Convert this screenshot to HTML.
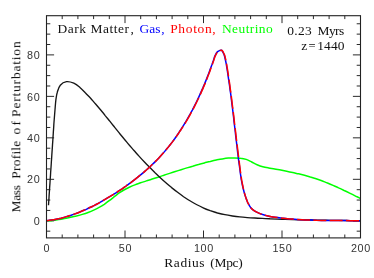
<!DOCTYPE html>
<html><head><meta charset="utf-8"><title>Mass Profile of Perturbation</title>
<style>
html,body{margin:0;padding:0;background:#fff;}
body{width:374px;height:278px;overflow:hidden;font-family:"Liberation Serif",serif;}
svg{display:block;}
.num text,.sn{font-family:"Liberation Sans",sans-serif;font-size:10.8px;letter-spacing:0.55px;fill:#333;}
.lab{font-family:"Liberation Serif",serif;font-size:11.8px;fill:#111;}
</style></head><body>
<svg width="374" height="278" viewBox="0 0 374 278">
<rect width="374" height="278" fill="#fff"/>
<path d="M46.50 237.90v-7.4M46.50 15.70v7.4M62.20 237.90v-3.4M62.20 15.70v3.4M77.90 237.90v-3.4M77.90 15.70v3.4M93.60 237.90v-3.4M93.60 15.70v3.4M109.30 237.90v-3.4M109.30 15.70v3.4M125.00 237.90v-7.4M125.00 15.70v7.4M140.70 237.90v-3.4M140.70 15.70v3.4M156.40 237.90v-3.4M156.40 15.70v3.4M172.10 237.90v-3.4M172.10 15.70v3.4M187.80 237.90v-3.4M187.80 15.70v3.4M203.50 237.90v-7.4M203.50 15.70v7.4M219.20 237.90v-3.4M219.20 15.70v3.4M234.90 237.90v-3.4M234.90 15.70v3.4M250.60 237.90v-3.4M250.60 15.70v3.4M266.30 237.90v-3.4M266.30 15.70v3.4M282.00 237.90v-7.4M282.00 15.70v7.4M297.70 237.90v-3.4M297.70 15.70v3.4M313.40 237.90v-3.4M313.40 15.70v3.4M329.10 237.90v-3.4M329.10 15.70v3.4M344.80 237.90v-3.4M344.80 15.70v3.4M360.50 237.90v-7.4M360.50 15.70v7.4M46.50 231.17h3.8M360.50 231.17h-3.8M46.50 220.80h7.6M360.50 220.80h-7.6M46.50 210.43h3.8M360.50 210.43h-3.8M46.50 200.06h3.8M360.50 200.06h-3.8M46.50 189.69h3.8M360.50 189.69h-3.8M46.50 179.32h7.6M360.50 179.32h-7.6M46.50 168.95h3.8M360.50 168.95h-3.8M46.50 158.58h3.8M360.50 158.58h-3.8M46.50 148.21h3.8M360.50 148.21h-3.8M46.50 137.84h7.6M360.50 137.84h-7.6M46.50 127.47h3.8M360.50 127.47h-3.8M46.50 117.10h3.8M360.50 117.10h-3.8M46.50 106.73h3.8M360.50 106.73h-3.8M46.50 96.36h7.6M360.50 96.36h-7.6M46.50 85.99h3.8M360.50 85.99h-3.8M46.50 75.62h3.8M360.50 75.62h-3.8M46.50 65.25h3.8M360.50 65.25h-3.8M46.50 54.88h7.6M360.50 54.88h-7.6M46.50 44.51h3.8M360.50 44.51h-3.8M46.50 34.14h3.8M360.50 34.14h-3.8M46.50 23.77h3.8M360.50 23.77h-3.8" stroke="#2a2a2a" stroke-width="1" fill="none"/>
<g fill="none" stroke-linejoin="round" stroke-linecap="butt">
<path d="M46.5 220.8C47.5 220.7 50.6 220.6 52.6 220.4C54.6 220.2 56.6 220.0 58.6 219.6C60.6 219.3 62.6 218.9 64.5 218.5C66.5 218.2 68.5 217.7 70.5 217.3C72.5 216.9 74.5 216.4 76.4 216.0C78.4 215.5 80.4 215.0 82.3 214.4C84.3 213.8 86.2 213.2 88.1 212.5C90.0 211.8 91.9 211.0 93.7 210.1C95.5 209.3 97.3 208.4 99.1 207.4C100.9 206.4 102.6 205.4 104.3 204.3C106.0 203.1 107.6 202.0 109.2 200.7C110.9 199.5 112.4 198.2 114.0 196.9C115.6 195.7 117.2 194.4 118.8 193.2C120.5 192.1 122.2 191.0 123.9 190.0C125.6 189.0 127.4 188.1 129.3 187.2C131.1 186.4 133.0 185.6 134.9 184.9C136.7 184.2 138.7 183.5 140.6 182.8C142.5 182.2 144.5 181.5 146.4 180.9C148.3 180.3 150.3 179.7 152.2 179.0C154.2 178.4 156.1 177.8 158.0 177.2C159.9 176.5 161.9 175.9 163.8 175.3C165.7 174.6 167.6 174.0 169.6 173.4C171.5 172.8 173.4 172.2 175.3 171.5C177.2 170.9 179.2 170.3 181.1 169.7C183.0 169.1 184.9 168.5 186.9 167.9C188.8 167.3 190.7 166.7 192.7 166.2C194.6 165.6 196.6 165.0 198.5 164.5C200.5 163.9 202.4 163.4 204.4 162.9C206.4 162.4 208.3 161.8 210.3 161.4C212.3 160.9 214.3 160.4 216.3 160.0C218.3 159.6 220.2 159.2 222.3 158.9C224.3 158.6 226.3 158.3 228.3 158.1C230.3 158.0 232.3 157.9 234.3 157.9C236.3 157.9 238.4 157.9 240.4 158.2C242.4 158.4 244.4 158.8 246.2 159.4C248.1 160.1 249.9 161.1 251.7 162.0C253.5 162.9 255.3 164.0 257.1 164.8C259.0 165.6 260.9 166.3 262.8 166.8C264.7 167.3 266.8 167.6 268.7 167.9C270.7 168.3 272.7 168.6 274.7 169.0C276.7 169.4 278.7 169.7 280.7 170.1C282.7 170.5 284.7 170.9 286.7 171.3C288.7 171.7 290.7 172.1 292.7 172.5C294.7 172.9 296.6 173.4 298.6 173.8C300.6 174.3 302.6 174.8 304.5 175.3C306.5 175.8 308.4 176.4 310.3 177.0C312.3 177.5 314.2 178.2 316.1 178.8C318.0 179.4 320.0 180.1 321.8 180.8C323.7 181.5 325.6 182.3 327.5 183.0C329.4 183.8 331.2 184.6 333.1 185.4C334.9 186.2 336.8 187.0 338.6 187.9C340.5 188.7 342.3 189.6 344.1 190.5C346.0 191.3 347.8 192.2 349.6 193.1C351.4 194.0 353.3 194.9 355.1 195.8C356.9 196.7 359.6 198.0 360.5 198.5" stroke="#00ff00" stroke-width="1.5"/>
<path d="M48.5 205.2C48.6 203.9 48.8 200.2 49.0 197.7C49.1 195.2 49.3 192.7 49.5 190.1C49.6 187.6 49.8 185.1 50.0 182.6C50.1 180.1 50.3 177.6 50.5 175.1C50.6 172.5 50.8 170.0 51.0 167.5C51.2 165.0 51.3 162.5 51.5 160.0C51.7 157.5 51.8 155.0 52.0 152.4C52.2 149.9 52.4 147.4 52.5 144.9C52.7 142.4 52.9 139.9 53.0 137.4C53.2 134.9 53.3 132.4 53.5 129.9C53.7 127.4 53.8 124.8 54.0 122.3C54.2 119.8 54.4 117.3 54.6 114.8C54.8 112.3 55.0 109.8 55.2 107.3C55.4 104.8 55.6 102.2 55.9 99.7C56.3 97.2 56.5 94.7 57.3 92.2C58.0 89.8 58.7 87.0 60.3 85.2C61.8 83.5 64.2 82.1 66.5 81.7C68.7 81.4 71.5 82.2 73.8 83.1C76.0 84.1 78.0 85.8 79.9 87.4C81.8 89.0 83.6 90.9 85.3 92.8C87.1 94.6 88.8 96.5 90.6 98.3C92.3 100.2 93.9 102.1 95.6 104.0C97.2 105.9 98.8 107.8 100.5 109.8C102.1 111.7 103.7 113.6 105.2 115.6C106.8 117.5 108.4 119.5 110.0 121.4C111.5 123.4 113.1 125.3 114.7 127.3C116.2 129.2 117.8 131.2 119.4 133.2C121.0 135.1 122.6 137.0 124.2 139.0C125.8 140.9 127.4 142.9 129.0 144.8C130.7 146.7 132.3 148.6 134.0 150.5C135.7 152.4 137.3 154.3 139.0 156.1C140.7 158.0 142.4 159.9 144.2 161.7C145.9 163.5 147.6 165.3 149.4 167.1C151.2 168.9 153.0 170.7 154.8 172.5C156.6 174.2 158.4 176.0 160.3 177.7C162.1 179.4 164.0 181.1 165.9 182.7C167.8 184.4 169.7 186.0 171.6 187.6C173.6 189.2 175.6 190.8 177.6 192.3C179.6 193.8 181.6 195.3 183.6 196.7C185.7 198.1 187.8 199.5 189.9 200.8C192.1 202.1 194.2 203.4 196.4 204.5C198.7 205.7 200.9 206.8 203.2 207.8C205.5 208.9 207.8 209.8 210.2 210.7C212.6 211.5 215.0 212.3 217.5 213.0C219.9 213.6 222.4 214.2 224.9 214.7C227.4 215.2 229.9 215.6 232.4 216.0C234.9 216.4 237.3 216.7 239.8 216.9C242.3 217.2 244.8 217.4 247.3 217.6C249.8 217.8 252.3 217.9 254.8 218.0C257.3 218.2 259.8 218.3 262.3 218.4C264.8 218.6 267.4 218.7 269.9 218.8C272.4 218.9 274.9 219.0 277.4 219.1C279.9 219.2 282.4 219.3 285.0 219.3C287.5 219.4 290.0 219.5 292.5 219.6C295.0 219.6 297.6 219.7 300.1 219.8C302.6 219.8 305.1 219.9 307.6 219.9C310.2 220.0 312.7 220.0 315.2 220.1C317.7 220.1 320.3 220.2 322.8 220.2C325.3 220.2 327.8 220.3 330.3 220.3C332.9 220.3 335.4 220.4 337.9 220.4C340.4 220.5 342.9 220.5 345.4 220.5C348.0 220.6 350.5 220.6 353.0 220.7C355.5 220.7 359.2 220.8 360.5 220.8" stroke="#161616" stroke-width="1.35"/>
<path d="M46.5 220.8C47.3 220.7 49.8 220.4 51.4 220.1C53.0 219.9 54.6 219.6 56.2 219.2C57.8 218.9 59.4 218.5 61.0 218.2C62.5 217.8 64.1 217.4 65.7 216.9C67.2 216.5 68.8 216.0 70.3 215.5C71.8 215.0 73.4 214.5 74.9 213.9C76.4 213.4 77.9 212.8 79.4 212.2C80.9 211.6 82.4 211.0 83.9 210.3C85.4 209.7 86.8 209.0 88.3 208.3C89.8 207.6 91.2 206.9 92.7 206.2C94.1 205.5 95.6 204.7 97.0 204.0C98.4 203.2 99.9 202.4 101.3 201.6C102.7 200.8 104.1 200.0 105.5 199.2C106.9 198.4 108.3 197.6 109.7 196.7C111.1 195.9 112.5 195.0 113.9 194.1C115.3 193.3 116.6 192.4 118.0 191.5C119.4 190.6 120.7 189.7 122.1 188.8C123.4 187.9 124.8 186.9 126.1 186.0C127.4 185.0 128.8 184.1 130.1 183.1C131.4 182.2 132.7 181.2 134.0 180.2C135.3 179.2 136.6 178.2 137.8 177.2C139.1 176.1 140.4 175.1 141.6 174.1C142.9 173.0 144.1 172.0 145.3 170.9C146.5 169.8 147.8 168.7 149.0 167.6C150.2 166.5 151.3 165.4 152.5 164.3C153.7 163.2 154.8 162.0 156.0 160.9C157.1 159.7 158.2 158.6 159.3 157.4C160.4 156.2 161.5 155.0 162.6 153.8C163.7 152.6 164.8 151.4 165.8 150.1C166.8 148.9 167.9 147.7 168.9 146.4C169.9 145.1 170.8 143.9 171.8 142.6C172.8 141.3 173.7 140.0 174.7 138.7C175.6 137.4 176.5 136.1 177.5 134.7C178.4 133.4 179.3 132.1 180.1 130.7C181.0 129.4 181.9 128.0 182.7 126.6C183.6 125.3 184.4 123.9 185.3 122.5C186.1 121.1 186.9 119.7 187.7 118.3C188.5 116.9 189.3 115.5 190.1 114.1C190.9 112.6 191.7 111.2 192.5 109.8C193.2 108.3 194.0 106.9 194.7 105.4C195.4 104.0 196.2 102.5 196.9 101.0C197.6 99.6 198.3 98.1 199.0 96.6C199.7 95.1 200.4 93.6 201.0 92.1C201.7 90.6 202.3 89.1 203.0 87.6C203.6 86.1 204.3 84.6 204.9 83.1C205.5 81.6 206.1 80.1 206.7 78.6C207.3 77.1 207.9 75.5 208.5 74.0C209.1 72.5 209.6 70.9 210.2 69.4C210.8 67.9 211.3 66.3 211.9 64.8C212.4 63.3 212.9 61.7 213.5 60.2C214.0 58.7 214.4 57.0 215.1 55.6C215.8 54.2 216.5 52.6 217.6 51.7C218.7 50.9 220.4 49.8 221.5 50.3C222.6 50.8 223.4 53.1 224.1 54.6C224.7 56.1 225.0 57.9 225.3 59.5C225.7 61.1 226.0 62.6 226.3 64.2C226.5 65.8 226.8 67.4 227.1 69.0C227.3 70.6 227.6 72.2 227.8 73.8C228.1 75.4 228.3 77.0 228.5 78.6C228.8 80.2 229.0 81.8 229.2 83.4C229.5 85.0 229.7 86.6 229.9 88.3C230.1 89.9 230.3 91.5 230.6 93.1C230.8 94.7 231.0 96.3 231.2 97.9C231.4 99.5 231.6 101.2 231.8 102.8C232.0 104.4 232.2 106.0 232.4 107.6C232.6 109.2 232.8 110.8 233.0 112.4C233.2 114.1 233.4 115.7 233.6 117.3C233.7 118.9 233.9 120.5 234.1 122.1C234.3 123.7 234.5 125.4 234.7 127.0C234.9 128.6 235.1 130.2 235.3 131.8C235.4 133.4 235.6 135.0 235.8 136.7C236.0 138.3 236.2 139.9 236.4 141.5C236.6 143.1 236.8 144.7 237.0 146.3C237.2 148.0 237.3 149.6 237.5 151.2C237.7 152.8 237.9 154.4 238.1 156.0C238.3 157.6 238.5 159.2 238.7 160.9C238.9 162.5 239.2 164.1 239.4 165.7C239.6 167.3 239.8 168.9 240.0 170.5C240.2 172.1 240.4 173.8 240.7 175.4C240.9 177.0 241.1 178.6 241.4 180.2C241.7 181.8 242.0 183.4 242.4 185.0C242.7 186.6 243.1 188.2 243.5 189.7C243.9 191.3 244.3 192.9 244.8 194.4C245.3 196.0 245.8 197.6 246.4 199.1C247.0 200.6 247.5 202.2 248.3 203.7C249.0 205.1 249.8 206.6 250.8 207.8C251.8 209.0 253.0 210.0 254.4 210.9C255.7 211.8 257.3 212.5 258.8 213.1C260.3 213.8 261.9 214.3 263.5 214.7C265.0 215.2 266.6 215.6 268.1 215.9C269.7 216.3 271.3 216.6 272.9 216.9C274.5 217.2 276.1 217.4 277.7 217.6C279.3 217.9 280.9 218.0 282.5 218.2C284.2 218.4 285.8 218.6 287.4 218.7C289.0 218.8 290.7 219.0 292.3 219.1C293.9 219.2 295.5 219.3 297.1 219.4C298.8 219.5 300.4 219.6 302.0 219.7C303.6 219.8 305.3 219.9 306.9 219.9C308.5 220.0 310.1 220.1 311.8 220.1C313.4 220.2 315.0 220.2 316.6 220.3C318.2 220.3 319.9 220.3 321.5 220.4C323.1 220.4 324.7 220.4 326.4 220.5C328.0 220.5 329.6 220.5 331.2 220.5C332.9 220.5 334.5 220.6 336.1 220.6C337.7 220.6 339.4 220.6 341.0 220.6C342.6 220.6 344.2 220.6 345.9 220.6C347.5 220.7 349.1 220.7 350.7 220.7C352.4 220.7 354.0 220.7 355.6 220.7C357.2 220.8 359.7 220.8 360.5 220.8" stroke="#0000ff" stroke-width="1.5"/>
<path d="M46.5 220.8C47.3 220.7 49.8 220.4 51.4 220.1C53.0 219.9 54.6 219.6 56.2 219.2C57.8 218.9 59.4 218.5 61.0 218.2C62.5 217.8 64.1 217.4 65.7 216.9C67.2 216.5 68.8 216.0 70.3 215.5C71.8 215.0 73.4 214.5 74.9 213.9C76.4 213.4 77.9 212.8 79.4 212.2C80.9 211.6 82.4 211.0 83.9 210.3C85.4 209.7 86.8 209.0 88.3 208.3C89.8 207.6 91.2 206.9 92.7 206.2C94.1 205.5 95.6 204.7 97.0 204.0C98.4 203.2 99.9 202.4 101.3 201.6C102.7 200.8 104.1 200.0 105.5 199.2C106.9 198.4 108.3 197.6 109.7 196.7C111.1 195.9 112.5 195.0 113.9 194.1C115.3 193.3 116.6 192.4 118.0 191.5C119.4 190.6 120.7 189.7 122.1 188.8C123.4 187.9 124.8 186.9 126.1 186.0C127.4 185.0 128.8 184.1 130.1 183.1C131.4 182.2 132.7 181.2 134.0 180.2C135.3 179.2 136.6 178.2 137.8 177.2C139.1 176.1 140.4 175.1 141.6 174.1C142.9 173.0 144.1 172.0 145.3 170.9C146.5 169.8 147.8 168.7 149.0 167.6C150.2 166.5 151.3 165.4 152.5 164.3C153.7 163.2 154.8 162.0 156.0 160.9C157.1 159.7 158.2 158.6 159.3 157.4C160.4 156.2 161.5 155.0 162.6 153.8C163.7 152.6 164.8 151.4 165.8 150.1C166.8 148.9 167.9 147.7 168.9 146.4C169.9 145.1 170.9 143.9 171.9 142.6C172.9 141.3 173.8 140.0 174.8 138.7C175.7 137.4 176.7 136.1 177.6 134.7C178.5 133.4 179.4 132.1 180.3 130.7C181.2 129.4 182.1 128.0 183.0 126.6C183.9 125.3 184.7 123.9 185.6 122.5C186.4 121.1 187.2 119.7 188.0 118.3C188.9 116.9 189.7 115.5 190.4 114.1C191.2 112.6 192.0 111.2 192.8 109.8C193.5 108.3 194.3 106.9 195.0 105.4C195.8 104.0 196.5 102.5 197.2 101.0C197.9 99.6 198.6 98.1 199.3 96.6C200.0 95.1 200.7 93.6 201.3 92.1C202.0 90.6 202.7 89.1 203.3 87.6C204.0 86.1 204.6 84.6 205.2 83.1C205.8 81.6 206.4 80.1 207.0 78.6C207.6 77.1 208.2 75.5 208.8 74.0C209.4 72.5 210.0 70.9 210.5 69.4C211.1 67.9 211.6 66.3 212.2 64.8C212.7 63.3 213.2 61.7 213.8 60.2C214.3 58.7 214.7 57.0 215.4 55.6C216.1 54.2 216.8 52.6 217.9 51.7C219.0 50.9 220.8 49.8 221.8 50.3C222.9 50.8 223.7 53.1 224.4 54.6C225.0 56.1 225.3 57.9 225.7 59.5C226.0 61.1 226.3 62.6 226.6 64.2C226.9 65.8 227.1 67.4 227.4 69.0C227.7 70.6 227.9 72.2 228.2 73.8C228.4 75.4 228.6 77.0 228.9 78.6C229.1 80.2 229.3 81.8 229.6 83.4C229.8 85.0 230.0 86.6 230.2 88.3C230.4 89.9 230.7 91.5 230.9 93.1C231.1 94.7 231.3 96.3 231.5 97.9C231.7 99.5 231.9 101.2 232.1 102.8C232.3 104.4 232.5 106.0 232.7 107.6C232.9 109.2 233.1 110.8 233.3 112.4C233.5 114.1 233.7 115.7 233.9 117.3C234.1 118.9 234.3 120.5 234.4 122.1C234.6 123.7 234.8 125.4 235.0 127.0C235.2 128.6 235.4 130.2 235.6 131.8C235.8 133.4 236.0 135.0 236.1 136.7C236.3 138.3 236.5 139.9 236.7 141.5C236.9 143.1 237.1 144.7 237.3 146.3C237.5 148.0 237.7 149.6 237.9 151.2C238.1 152.8 238.3 154.4 238.5 156.0C238.7 157.6 238.9 159.2 239.1 160.9C239.3 162.5 239.5 164.1 239.7 165.7C239.9 167.3 240.1 168.9 240.3 170.5C240.5 172.1 240.8 173.8 241.0 175.4C241.2 177.0 241.5 178.6 241.7 180.2C242.0 181.8 242.3 183.4 242.6 185.0C242.9 186.6 243.3 188.2 243.6 189.7C244.0 191.3 244.4 192.9 244.9 194.4C245.4 196.0 245.8 197.6 246.4 199.1C247.0 200.6 247.5 202.2 248.3 203.7C249.0 205.1 249.8 206.6 250.8 207.8C251.8 209.0 253.0 210.0 254.4 210.9C255.7 211.8 257.3 212.5 258.8 213.1C260.3 213.8 261.9 214.3 263.5 214.7C265.0 215.2 266.6 215.6 268.1 215.9C269.7 216.3 271.3 216.6 272.9 216.9C274.5 217.2 276.1 217.4 277.7 217.6C279.3 217.9 280.9 218.0 282.5 218.2C284.2 218.4 285.8 218.6 287.4 218.7C289.0 218.8 290.7 219.0 292.3 219.1C293.9 219.2 295.5 219.3 297.1 219.4C298.8 219.5 300.4 219.6 302.0 219.7C303.6 219.8 305.3 219.9 306.9 219.9C308.5 220.0 310.1 220.1 311.8 220.1C313.4 220.2 315.0 220.2 316.6 220.3C318.2 220.3 319.9 220.3 321.5 220.4C323.1 220.4 324.7 220.4 326.4 220.5C328.0 220.5 329.6 220.5 331.2 220.5C332.9 220.5 334.5 220.6 336.1 220.6C337.7 220.6 339.4 220.6 341.0 220.6C342.6 220.6 344.2 220.6 345.9 220.6C347.5 220.7 349.1 220.7 350.7 220.7C352.4 220.7 354.0 220.7 355.6 220.7C357.2 220.8 359.7 220.8 360.5 220.8" stroke="#ff0000" stroke-width="1.5" stroke-dasharray="24.35 3.3 12.99 3.3 12.99 3.3 12.99 3.3 12.99 3.3 12.99 3.3 12.99 3.3 12.99 3.3 12.99 3.3 12.99 3.3 12.99 3.3 12.99 3.3 12.99 3.3 12.99 3.3 12.99 3.3 12.99 3.3 12.99 3.3 12.99 3.3 12.99 3.3 12.99 3.3 12.99 3.3 12.99 3.3 12.99 3.3 12.99 3.3 12.99 3.3 12.99 3.3 12.99 3.3 12.99 3.3 12.99 3.3 12.99 3.3 12.99 3.3 12.99 3.3 12.99 3.3 12.99 3.3 12.99 3.3 12.99 3.3 12.99 3.3 12.99 3.3 12.99 3.3 12.99 3.3 12.99 3.3 12.99 3.3 12.99 3.3 12.99 3.3 12.99 3.3 12.99 3.3 12.99 3.3 12.99 3.3 12.99 3.3 12.99 3.3 12.99 3.3 12.99 3.3 12.99 3.3 12.99 3.3 12.99 3.3 12.99 3.3 12.99 3.3 12.99 3.3 12.99 3.3 12.99 3.3 12.99"/>
</g>
<rect x="46.5" y="15.7" width="314.0" height="222.2" fill="none" stroke="#222" stroke-width="1.1"/>
<g class="num" style="will-change:transform;filter:opacity(1)"><text x="46.9" y="252.1" text-anchor="middle">0</text><text x="125.4" y="252.1" text-anchor="middle">50</text><text x="203.9" y="252.1" text-anchor="middle">100</text><text x="282.4" y="252.1" text-anchor="middle">150</text><text x="360.9" y="252.1" text-anchor="middle">200</text><text x="40.8" y="224.9" text-anchor="end" style="letter-spacing:0.95px">0</text><text x="40.8" y="183.4" text-anchor="end" style="letter-spacing:0.95px">20</text><text x="40.8" y="141.9" text-anchor="end" style="letter-spacing:0.95px">40</text><text x="40.8" y="100.5" text-anchor="end" style="letter-spacing:0.95px">60</text><text x="40.8" y="59.0" text-anchor="end" style="letter-spacing:0.95px">80</text></g>
<g class="lab" style="will-change:transform;filter:opacity(1)">
<text transform="scale(1.14 1)" x="50.5" y="33.4" textLength="62.72" lengthAdjust="spacing">Dark Matter</text>
<text transform="scale(1.14 1)" x="114.56" y="33.4">,</text>
<text transform="scale(1.14 1)" x="122.46" y="33.4" textLength="18.25" lengthAdjust="spacing" fill="#0000ff">Gas</text>
<text transform="scale(1.14 1)" x="141.40" y="33.4" fill="#0000ff">,</text>
<text transform="scale(1.14 1)" x="149.30" y="33.4" textLength="36.40" lengthAdjust="spacing" fill="#ff0000">Photon</text>
<text transform="scale(1.14 1)" x="186.23" y="33.4" fill="#ff0000">,</text>
<text transform="scale(1.14 1)" x="194.74" y="33.4" textLength="44.47" lengthAdjust="spacing" fill="#00ff00">Neutrino</text>
<text transform="scale(1.14 1)" x="252.0" y="34.7" textLength="21.4" lengthAdjust="spacing">0.23</text>
<text transform="scale(1.14 1)" x="278.51" y="34.7" textLength="23.42" lengthAdjust="spacing">Myrs</text>
<text transform="scale(1.14 1)" x="264.3" y="50.2">z</text>
<text transform="scale(1.14 1)" x="270.6" y="50.2" textLength="6.2" lengthAdjust="spacingAndGlyphs">=</text>
<text transform="scale(1.14 1)" x="278.3" y="50.2" textLength="23.9" lengthAdjust="spacing">1440</text>
<text transform="scale(1.14 1)" x="144.2" y="266.6" textLength="35.1" lengthAdjust="spacing">Radius</text>
<text transform="scale(1.14 1)" x="184.4" y="266.6" textLength="28.6" lengthAdjust="spacing">(Mpc)</text>
<g transform="translate(20.3 0) rotate(-90)">
<text transform="scale(1.14 1)" x="-186.3" y="0" textLength="24.0" lengthAdjust="spacing">Mass</text>
<text transform="scale(1.14 1)" x="-156.75" y="0" textLength="33.33" lengthAdjust="spacing">Profile</text>
<text transform="scale(1.14 1)" x="-117.9" y="0" textLength="11.8" lengthAdjust="spacing">of</text>
<text transform="scale(1.14 1)" x="-102.54" y="0" textLength="66.23" lengthAdjust="spacing">Perturbation</text>
</g>
</g>
</svg>
</body></html>
